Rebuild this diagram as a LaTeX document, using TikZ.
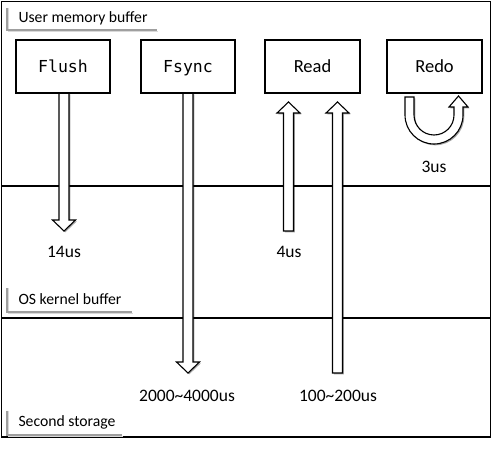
\documentclass[tikz,border=0pt]{standalone}
\usepackage{fontspec}
\setmainfont{Carlito}
\newfontfamily\monof{DejaVu Sans Mono}
\usetikzlibrary{shadows}
\tikzset{
  shd/.style={drop shadow={shadow xshift=1.3pt,shadow yshift=-1.3pt,fill=black,opacity=0.35}},
  opbox/.style={draw=black,line width=1.4pt,fill=white,minimum width=94pt,minimum height=53pt,inner sep=0pt,text height=14pt,text depth=2pt,shd},
  blk/.style={draw=black,line width=1.1pt,fill=white,line join=miter,shd},
  lane/.style={draw=black,line width=1.4pt},
  tabline/.style={draw=gray!75,line width=1.1pt},
  tabshade/.style={draw=gray!30,line width=1.6pt},
  tabtxt/.style={font=\fontsize{15.7}{18}\selectfont,inner sep=0pt},
  lbl/.style={font=\fontsize{17.5}{20}\selectfont,inner sep=0pt}
}
\newcommand\blkdown[3]{% x, top y, tip y
  \draw[blk] (#1-5,#2) -- (#1+5,#2) -- (#1+5,#3+11) -- (#1+11.5,#3+11) -- (#1,#3) -- (#1-11.5,#3+11) -- (#1-5,#3+11) -- cycle;}
\newcommand\blkup[3]{% x, bottom y, tip y
  \draw[blk] (#1-5,#2) -- (#1+5,#2) -- (#1+5,#3-11) -- (#1+11.5,#3-11) -- (#1,#3) -- (#1-11.5,#3-11) -- (#1-5,#3-11) -- cycle;}
\begin{document}
\begin{tikzpicture}[x=1pt,y=1pt]
\useasboundingbox (0,0) rectangle (492,448);
% frame and lanes
\draw[lane] (1.5,11) rectangle (490.5,446.5);
\draw[lane] (1.5,262) coordinate (l1a) -- (490.5,262) coordinate (l1b);
\draw[lane] (1.5,130) coordinate (l2a) -- (490.5,130) coordinate (l2b);
% tabs
\draw[tabshade] (8.5,440) -- (8.5,416.5) -- (158,416.5);
\draw[tabline] (7,440) -- (7,418) -- (157,418);
\node[tabtxt] (t1) at (83,430) {User memory buffer};
\draw[tabshade] (8.5,160) -- (8.5,134.5) -- (133,134.5);
\draw[tabline] (7,160) -- (7,136) -- (132,136);
\node[tabtxt] (t2) at (70,149) {OS kernel buffer};
\draw[tabshade] (8.5,37) -- (8.5,11.5) -- (123,11.5);
\draw[tabline] (7,37) -- (7,13) -- (122,13);
\node[tabtxt] (t3) at (67,26) {Second storage};
% arrows
\blkdown{64}{355}{217}
\blkdown{188}{355}{75}
\blkup{288.5}{217}{346}
\blkup{337.5}{75}{346}
\draw[blk] (405,351) -- (405,333) arc[start angle=180,end angle=360,radius=29]
  -- (463,341) -- (468,341) -- (458.5,352) -- (449,341) -- (454,341) -- (454,333)
  arc[start angle=0,end angle=-180,radius=20] -- (414,351) -- cycle;
% boxes
\node[opbox,font=\monof\fontsize{16.5}{19}\selectfont] (flush) at (63,381.5) {Flush};
\node[opbox,font=\monof\fontsize{16.5}{19}\selectfont] (fsync) at (188,381.5) {Fsync};
\node[opbox,minimum width=95pt,font=\fontsize{18.5}{21}\selectfont] (read) at (312.5,381.5) {Read};
\node[opbox,minimum width=95pt,font=\fontsize{18.5}{21}\selectfont] (redo) at (434.5,381.5) {Redo};
% labels
\node[lbl] (a1) at (64,196) {14us};
\node[lbl] (a2) at (289,196) {4us};
\node[lbl] (a3) at (434,281) {3us};
\node[lbl] (a4) at (187,52) {2000\textasciitilde 4000us};
\node[lbl] (a5) at (338,52) {100\textasciitilde 200us};
\end{tikzpicture}
\end{document}
